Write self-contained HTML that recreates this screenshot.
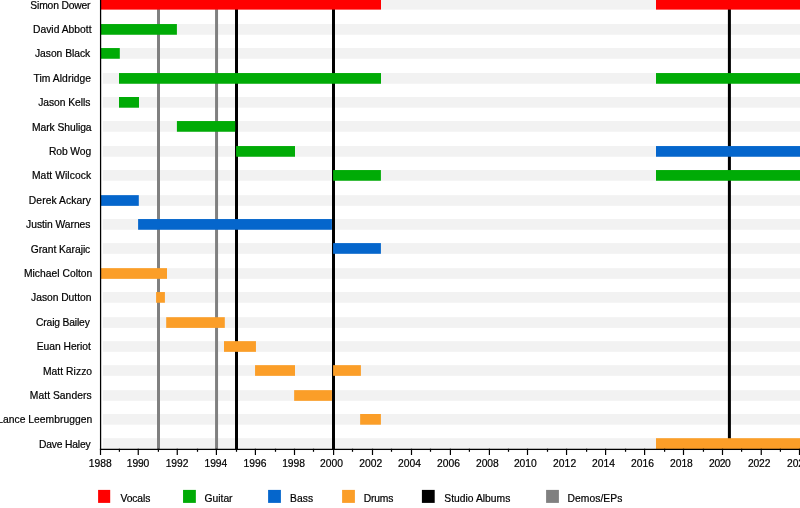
<!DOCTYPE html>
<html lang="en"><head><meta charset="utf-8"><title>Timeline</title>
<style>
html,body{margin:0;padding:0;background:#fff;}
body{width:800px;height:508px;overflow:hidden;}
svg{display:block;}
text{font-family:"Liberation Sans",sans-serif;font-size:10.3px;fill:#000;stroke:#000;stroke-width:0.2px;white-space:pre;}
</style></head><body>
<svg width="800" height="508" viewBox="0 0 800 508">
<rect x="0" y="0" width="800" height="508" fill="#fff"/>
<g id="stripes" fill="#f2f2f2">
<rect x="102.8" y="-1.10" width="700" height="10.70"/>
<rect x="102.8" y="24.05" width="700" height="10.70"/>
<rect x="102.8" y="48.05" width="700" height="10.70"/>
<rect x="102.8" y="73.05" width="700" height="10.70"/>
<rect x="102.8" y="97.00" width="700" height="10.70"/>
<rect x="102.8" y="121.05" width="700" height="10.70"/>
<rect x="102.8" y="146.05" width="700" height="10.70"/>
<rect x="102.8" y="170.05" width="700" height="10.70"/>
<rect x="102.8" y="195.15" width="700" height="10.70"/>
<rect x="102.8" y="219.05" width="700" height="10.70"/>
<rect x="102.8" y="243.10" width="700" height="10.70"/>
<rect x="102.8" y="268.15" width="700" height="10.70"/>
<rect x="102.8" y="292.05" width="700" height="10.70"/>
<rect x="102.8" y="317.20" width="700" height="10.70"/>
<rect x="102.8" y="341.15" width="700" height="10.70"/>
<rect x="102.8" y="365.15" width="700" height="10.70"/>
<rect x="102.8" y="390.15" width="700" height="10.70"/>
<rect x="102.8" y="414.00" width="700" height="10.70"/>
<rect x="102.8" y="438.20" width="700" height="10.80"/>
</g>
<g id="lines">
<rect x="157.00" y="0" width="3.0" height="449.00" fill="#808080"/>
<rect x="215.05" y="0" width="3.0" height="449.00" fill="#808080"/>
<rect x="235.00" y="0" width="3.0" height="449.00" fill="#000000"/>
<rect x="332.00" y="0" width="3.0" height="449.00" fill="#000000"/>
<rect x="727.90" y="0" width="3.0" height="449.00" fill="#000000"/>
</g>
<g id="bars">
<rect x="101" y="-1.10" width="280.00" height="10.70" fill="#ff0000"/>
<rect x="656" y="-1.10" width="144.00" height="10.70" fill="#ff0000"/>
<rect x="101" y="24.05" width="75.90" height="10.70" fill="#00ab06"/>
<rect x="101" y="48.05" width="18.80" height="10.70" fill="#00ab06"/>
<rect x="119.0" y="73.05" width="262.00" height="10.70" fill="#00ab06"/>
<rect x="656" y="73.05" width="144.00" height="10.70" fill="#00ab06"/>
<rect x="119.0" y="97.00" width="20.00" height="10.70" fill="#00ab06"/>
<rect x="176.9" y="121.05" width="58.30" height="10.70" fill="#00ab06"/>
<rect x="236.1" y="146.05" width="58.90" height="10.70" fill="#00ab06"/>
<rect x="656" y="146.05" width="144.00" height="10.70" fill="#0566cc"/>
<rect x="333.1" y="170.05" width="47.80" height="10.70" fill="#00ab06"/>
<rect x="656" y="170.05" width="144.00" height="10.70" fill="#00ab06"/>
<rect x="101" y="195.15" width="37.80" height="10.70" fill="#0566cc"/>
<rect x="138.1" y="219.05" width="193.80" height="10.70" fill="#0566cc"/>
<rect x="333.1" y="243.10" width="47.80" height="10.70" fill="#0566cc"/>
<rect x="101" y="268.15" width="66.00" height="10.70" fill="#fb9e28"/>
<rect x="156.1" y="292.05" width="8.80" height="10.70" fill="#fb9e28"/>
<rect x="166.2" y="317.20" width="58.60" height="10.70" fill="#fb9e28"/>
<rect x="224.0" y="341.15" width="31.95" height="10.70" fill="#fb9e28"/>
<rect x="255.05" y="365.15" width="39.95" height="10.70" fill="#fb9e28"/>
<rect x="333.1" y="365.15" width="27.80" height="10.70" fill="#fb9e28"/>
<rect x="294.15" y="390.15" width="37.75" height="10.70" fill="#fb9e28"/>
<rect x="360.15" y="414.00" width="20.75" height="10.70" fill="#fb9e28"/>
<rect x="656" y="438.20" width="144.00" height="10.80" fill="#fb9e28"/>
</g>
<g id="axes" fill="#000">
<rect x="99.95" y="0" width="1.26" height="450.01"/>
<rect x="99.95" y="448.75" width="701" height="1.26"/>
<rect x="99.90" y="448.75" width="1.2" height="6.25"/>
<rect x="118.80" y="448.75" width="1.2" height="3.05"/>
<rect x="137.65" y="448.75" width="1.2" height="6.25"/>
<rect x="157.80" y="448.75" width="1.2" height="3.05"/>
<rect x="176.65" y="448.75" width="1.2" height="6.25"/>
<rect x="196.90" y="448.75" width="1.2" height="3.05"/>
<rect x="215.80" y="448.75" width="1.2" height="6.25"/>
<rect x="235.90" y="448.75" width="1.2" height="3.05"/>
<rect x="254.80" y="448.75" width="1.2" height="6.25"/>
<rect x="274.90" y="448.75" width="1.2" height="3.05"/>
<rect x="293.90" y="448.75" width="1.2" height="6.25"/>
<rect x="312.90" y="448.75" width="1.2" height="3.05"/>
<rect x="333.00" y="448.75" width="1.2" height="6.25"/>
<rect x="351.90" y="448.75" width="1.2" height="3.05"/>
<rect x="371.90" y="448.75" width="1.2" height="6.25"/>
<rect x="390.90" y="448.75" width="1.2" height="3.05"/>
<rect x="410.90" y="448.75" width="1.2" height="6.25"/>
<rect x="429.90" y="448.75" width="1.2" height="3.05"/>
<rect x="449.80" y="448.75" width="1.2" height="6.25"/>
<rect x="468.80" y="448.75" width="1.2" height="3.05"/>
<rect x="488.80" y="448.75" width="1.2" height="6.25"/>
<rect x="507.90" y="448.75" width="1.2" height="3.05"/>
<rect x="526.90" y="448.75" width="1.2" height="6.25"/>
<rect x="546.90" y="448.75" width="1.2" height="3.05"/>
<rect x="565.95" y="448.75" width="1.2" height="6.25"/>
<rect x="586.00" y="448.75" width="1.2" height="3.05"/>
<rect x="605.00" y="448.75" width="1.2" height="6.25"/>
<rect x="624.95" y="448.75" width="1.2" height="3.05"/>
<rect x="644.00" y="448.75" width="1.2" height="6.25"/>
<rect x="664.00" y="448.75" width="1.2" height="3.05"/>
<rect x="682.90" y="448.75" width="1.2" height="6.25"/>
<rect x="702.85" y="448.75" width="1.2" height="3.05"/>
<rect x="721.90" y="448.75" width="1.2" height="6.25"/>
<rect x="741.00" y="448.75" width="1.2" height="3.05"/>
<rect x="760.65" y="448.75" width="1.2" height="6.25"/>
<rect x="779.80" y="448.75" width="1.2" height="3.05"/>
<rect x="798.90" y="448.75" width="1.2" height="6.25"/>
</g>
<g id="legend">
<rect x="98.1" y="489.9" width="12.1" height="13.0" fill="#ff0000"/>
<rect x="183.05" y="489.9" width="12.8" height="13.0" fill="#00ab06"/>
<rect x="268.1" y="489.9" width="12.8" height="13.0" fill="#0566cc"/>
<rect x="342.1" y="489.9" width="12.8" height="13.0" fill="#fb9e28"/>
<rect x="421.9" y="489.9" width="12.8" height="13.0" fill="#000000"/>
<rect x="546.1" y="489.9" width="12.8" height="13.0" fill="#808080"/>
</g>
<g id="labels">
<text id="n0" x="30.35" y="8.80" style="letter-spacing:-0.165px">Simon Dower</text>
<text id="n1" x="33.00" y="32.70" style="letter-spacing:0.014px">David Abbott</text>
<text id="n2" x="35.00" y="56.70" style="letter-spacing:-0.035px">Jason Black</text>
<text id="n3" x="33.40" y="81.70" style="letter-spacing:0.077px">Tim Aldridge</text>
<text id="n4" x="38.20" y="105.70" style="letter-spacing:-0.050px">Jason Kells</text>
<text id="n5" x="31.95" y="130.90" style="letter-spacing:-0.045px">Mark Shuliga</text>
<text id="n6" x="48.95" y="154.80" style="letter-spacing:-0.083px">Rob Wog</text>
<text id="n7" x="31.95" y="178.90" style="letter-spacing:0.068px">Matt Wilcock</text>
<text id="n8" x="28.85" y="203.80" style="letter-spacing:0.077px">Derek Ackary</text>
<text id="n9" x="26.10" y="227.90" style="letter-spacing:-0.046px">Justin Warnes</text>
<text id="n10" x="30.70" y="252.70" style="letter-spacing:-0.042px">Grant Karajic</text>
<text id="n11" x="23.95" y="276.80" style="letter-spacing:0.019px">Michael Colton</text>
<text id="n12" x="31.10" y="301.10" style="letter-spacing:-0.036px">Jason Dutton</text>
<text id="n13" x="36.00" y="325.70" style="letter-spacing:-0.155px">Craig Bailey</text>
<text id="n14" x="36.75" y="350.00" style="letter-spacing:-0.035px">Euan Heriot</text>
<text id="n15" x="42.95" y="374.90" style="letter-spacing:0.056px">Matt Rizzo</text>
<text id="n16" x="29.85" y="398.85" style="letter-spacing:0.041px">Matt Sanders</text>
<text id="n17" x="-2.85" y="422.90" style="letter-spacing:0.037px">Lance Leembruggen</text>
<text id="n18" x="39.05" y="447.90" style="letter-spacing:-0.189px">Dave Haley</text>
<text id="y1988" x="88.75" y="466.90" style="letter-spacing:0.000px">1988</text>
<text id="y1990" x="126.85" y="466.90" style="letter-spacing:-0.167px">1990</text>
<text id="y1992" x="165.65" y="466.90" style="letter-spacing:-0.033px">1992</text>
<text id="y1994" x="204.55" y="466.90" style="letter-spacing:-0.117px">1994</text>
<text id="y1996" x="243.55" y="466.90" style="letter-spacing:-0.033px">1996</text>
<text id="y1998" x="282.15" y="466.90" style="letter-spacing:-0.033px">1998</text>
<text id="y2000" x="319.90" y="466.90" style="letter-spacing:0.067px">2000</text>
<text id="y2002" x="359.25" y="466.90" style="letter-spacing:0.017px">2002</text>
<text id="y2004" x="398.00" y="466.90" style="letter-spacing:-0.017px">2004</text>
<text id="y2006" x="437.00" y="466.90" style="letter-spacing:-0.017px">2006</text>
<text id="y2008" x="476.00" y="466.90" style="letter-spacing:-0.067px">2008</text>
<text id="y2010" x="513.90" y="466.90" style="letter-spacing:-0.017px">2010</text>
<text id="y2012" x="553.00" y="466.90" style="letter-spacing:0.067px">2012</text>
<text id="y2014" x="592.00" y="466.90" style="letter-spacing:-0.017px">2014</text>
<text id="y2016" x="631.00" y="466.90" style="letter-spacing:0.000px">2016</text>
<text id="y2018" x="670.10" y="466.90" style="letter-spacing:-0.067px">2018</text>
<text id="y2020" x="709.10" y="466.90" style="letter-spacing:-0.417px">2020</text>
<text id="y2022" x="748.00" y="466.90" style="letter-spacing:-0.167px">2022</text>
<text id="y2024" x="787.00" y="466.90" style="letter-spacing:-0.083px">2024</text>
<text id="l0" x="120.50" y="501.60" style="letter-spacing:-0.100px">Vocals</text>
<text id="l1" x="204.50" y="501.60" style="letter-spacing:0.000px">Guitar</text>
<text id="l2" x="290.00" y="501.60" style="letter-spacing:0.083px">Bass</text>
<text id="l3" x="363.75" y="501.60" style="letter-spacing:-0.188px">Drums</text>
<text id="l4" x="444.25" y="501.60" style="letter-spacing:0.021px">Studio Albums</text>
<text id="l5" x="567.50" y="501.60" style="letter-spacing:0.062px">Demos/EPs</text>
</g>
</svg>
</body></html>
